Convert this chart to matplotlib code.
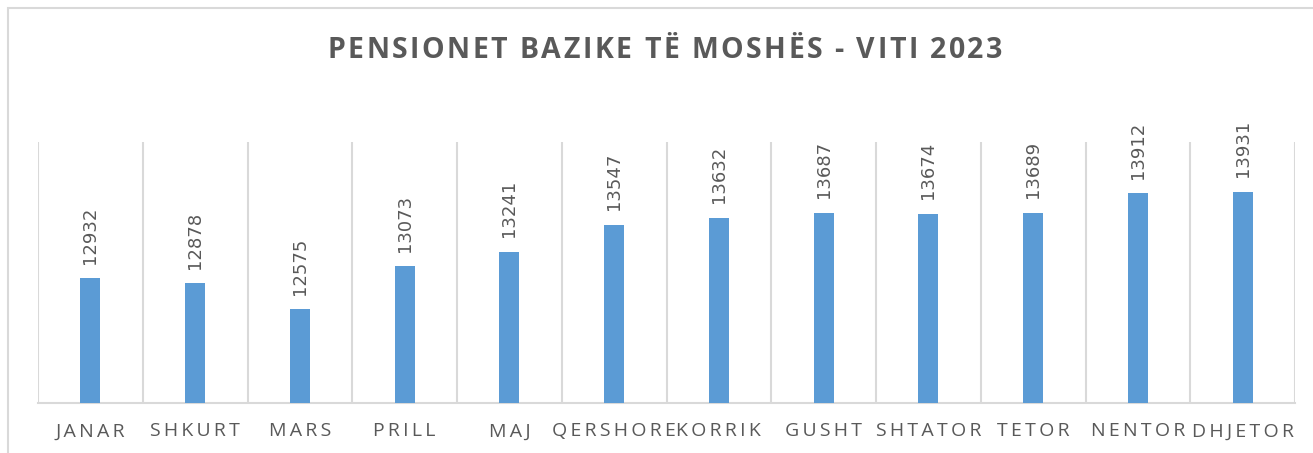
import matplotlib.pyplot as plt
from matplotlib.patches import Rectangle

months = ["JANAR", "SHKURT", "MARS", "PRILL", "MAJ", "QERSHORE", "KORRIK",
          "GUSHT", "SHTATOR", "TETOR", "NENTOR", "DHJETOR"]
values = [12932, 12878, 12575, 13073, 13241, 13547, 13632, 13687, 13674, 13689, 13912, 13931]
title = "PENSIONET BAZIKE TË MOSHËS - VITI 2023"

plt.rcParams['font.family'] = ['Open Sans', 'DejaVu Sans']
grey = '#595959'
line = '#D9D9D9'
W, H = 1313, 453


def spaced(s, sep='\u2009'):
    return sep.join(s)


def tracked_text(fig, xc, yc, s, track, **kw):
    # draw text char by char with extra letter spacing (pixels)
    r = fig.canvas.get_renderer()
    arts, widths = [], []
    for ch in s:
        t = fig.text(0, yc / H, ch, ha='left', va='center', **kw)
        arts.append(t)
        widths.append(t.get_window_extent(r).width if ch != ' ' else None)
    sp = fig.text(0, 0, 'n n', **kw)
    nn = fig.text(0, 0, 'nn', **kw)
    space_w = sp.get_window_extent(r).width - nn.get_window_extent(r).width
    sp.remove()
    nn.remove()
    widths = [w if w is not None else space_w for w in widths]
    total = sum(widths) + track * (len(s) - 1)
    x = xc - total / 2
    for t, w in zip(arts, widths):
        t.set_x(x / W)
        x += w + track


fig = plt.figure(figsize=(W / 100, H / 100), dpi=100)
fig.patches.append(Rectangle((8 / W, -0.1), 1.2, (H - 8) / H + 0.1,
                             transform=fig.transFigure, fill=False,
                             edgecolor=line, linewidth=1.5))
ax = fig.add_axes([38 / W, 50 / H, 1257 / W, 261 / H])

x = list(range(len(months)))
ax.bar(x, values, width=0.19, color='#5B9BD5', zorder=3)
for xi, v in zip(x, values):
    ax.annotate(str(v), (xi, v), xytext=(0, 10.5), textcoords='offset points',
                rotation=90, ha='center', va='bottom', color=grey, fontsize=13,
                family=['DejaVu Sans'])

ax.set_xlim(-0.5, len(months) - 0.5)
ax.set_ylim(11500, 14500)
ax.set_yticks([])
ax.set_xticks(x)
ax.set_xticklabels([spaced(m) for m in months], color=grey, fontsize=14)
ax.tick_params(axis='x', length=0, pad=14)
ax.set_xticks([i - 0.5 for i in range(len(months) + 1)], minor=True)
ax.tick_params(axis='x', which='minor', length=0)
ax.grid(axis='x', which='minor', color=line, linewidth=1.5, zorder=0)
for s in ['top', 'left', 'right']:
    ax.spines[s].set_visible(False)
ax.spines['bottom'].set_color(line)
ax.spines['bottom'].set_linewidth(1.5)

tracked_text(fig, 665, H - 51, title, 2.5, color=grey, fontsize=20.5,
             fontweight='bold')

fig.savefig('out.png', dpi=100)
